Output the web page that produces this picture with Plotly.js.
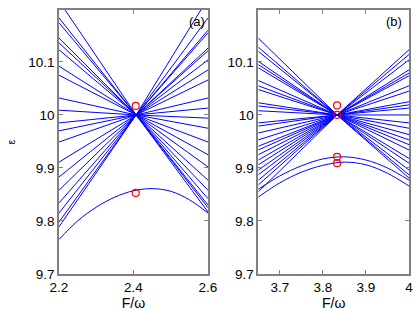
<!DOCTYPE html>
<html>
<head>
<meta charset="utf-8">
<script src="https://cdn.plot.ly/plotly-3.0.1.min.js"></script>
<style>html,body{margin:0;padding:0;background:#fff;}#chart{width:415px;height:311px;}</style>
</head>
<body>
<div id="chart"></div>
<script>
// Panel (a): x positions (left edge, crossing, right edge) and level values
const aX = [2.2, 2.407, 2.6];
const aCross = 10.0;
const aLeft = [10.215, 10.183, 10.174, 10.145, 10.136, 10.123, 10.092, 10.075, 10.032, 10.009,
               9.985, 9.970, 9.949, 9.911, 9.883, 9.858, 9.834, 9.815, 9.798, 9.789];
const aRight = [10.22, 10.183, 10.160, 10.155, 10.126, 10.121, 10.104, 10.085, 10.066, 10.032, 10.013,
                9.994, 9.975, 9.949, 9.925, 9.902, 9.877, 9.858, 9.842, 9.830, 9.825, 9.817];
const aCurveX = [2.2, 2.25, 2.3, 2.35, 2.4, 2.45, 2.5, 2.55, 2.6];
const aCurveY = [9.765, 9.8, 9.826, 9.845, 9.857, 9.861, 9.856, 9.84, 9.815];
const aCircX = [2.406, 2.406];
const aCircY = [10.017, 9.853];

// Panel (b)
const bX = [3.65, 3.833, 4.0];
const bCross = 10.0;
const bLeft = [10.145, 10.128, 10.120, 10.101, 10.095, 10.089, 10.065, 10.055, 10.048, 10.023, 10.017, 10.008,
               9.985, 9.979, 9.966, 9.953, 9.941, 9.934, 9.925, 9.915, 9.906, 9.896, 9.887, 9.877, 9.868, 9.855];
const bRight = [10.123, 10.114, 10.104, 10.085, 10.079, 10.074, 10.055, 10.045, 10.025, 10.019, 10.013, 10.0,
                9.985, 9.975, 9.963, 9.953, 9.944, 9.934, 9.918, 9.909, 9.896, 9.887, 9.881];
const bCurveX = [3.65, 3.7, 3.75, 3.8, 3.85, 3.9, 3.95, 4.0];
const bCurve1Y = [9.86, 9.885, 9.904, 9.917, 9.921, 9.915, 9.9, 9.877];
const bCurve2Y = [9.845, 9.872, 9.892, 9.905, 9.911, 9.906, 9.89, 9.866];
const bCircX = [3.833, 3.833, 3.833, 3.833];
const bCircY = [10.018, 10.0, 9.921, 9.909];

const yTicks = [9.7, 9.8, 9.9, 10, 10.1];
const yTickText = ['9.7', '9.8', '9.9', '10', '10.1'];
const aXTicks = [2.2, 2.4, 2.6];
const bXTicks = [3.7, 3.8, 3.9, 4];
const bXTickText = ['3.7', '3.8', '3.9', '4'];

const BLUE = 'rgb(0,0,255)';

function segs(xs, cross, left, right) {
  const x = [], y = [];
  left.forEach(v => { x.push(xs[0], xs[1], null); y.push(v, cross, null); });
  right.forEach(v => { x.push(xs[1], xs[2], null); y.push(cross, v, null); });
  return {x, y};
}
const sa = segs(aX, aCross, aLeft, aRight);
const sb = segs(bX, bCross, bLeft, bRight);

const lineStyle = {color: BLUE, width: 1};
const traces = [
  {x: sa.x, y: sa.y, xaxis: 'x', yaxis: 'y', mode: 'lines', line: lineStyle, connectgaps: false},
  {x: aCurveX, y: aCurveY, xaxis: 'x', yaxis: 'y', mode: 'lines', line: Object.assign({shape: 'spline'}, lineStyle)},
  {x: aCircX, y: aCircY, xaxis: 'x', yaxis: 'y', mode: 'markers',
   marker: {symbol: 'circle-open', size: 7, color: 'red', line: {width: 1.2, color: 'red'}}},
  {x: sb.x, y: sb.y, xaxis: 'x2', yaxis: 'y2', mode: 'lines', line: lineStyle, connectgaps: false},
  {x: bCurveX, y: bCurve1Y, xaxis: 'x2', yaxis: 'y2', mode: 'lines', line: Object.assign({shape: 'spline'}, lineStyle)},
  {x: bCurveX, y: bCurve2Y, xaxis: 'x2', yaxis: 'y2', mode: 'lines', line: Object.assign({shape: 'spline'}, lineStyle)},
  {x: bCircX, y: bCircY, xaxis: 'x2', yaxis: 'y2', mode: 'markers',
   marker: {symbol: 'circle-open', size: 7, color: 'red', line: {width: 1.2, color: 'red'}}}
];

const FAM = 'Liberation Sans, Arial, sans-serif';
const FONT = {family: FAM, size: 13.5, color: '#000'};
const axCommon = {
  showline: true, linecolor: '#808080', linewidth: 1.8, mirror: 'ticks',
  ticks: 'inside', ticklen: 4, tickcolor: '#808080', tickwidth: 1,
  showgrid: false, zeroline: false, tickfont: FONT, fixedrange: true
};
const layout = {
  width: 415, height: 311,
  margin: {l: 59, r: 6, t: 10, b: 37},
  paper_bgcolor: '#fff', plot_bgcolor: '#fff',
  showlegend: false,
  font: FONT,
  xaxis: Object.assign({}, axCommon, {domain: [0, 0.4257], range: [2.2, 2.6], tickvals: aXTicks,
    ticktext: ['2.2', '2.4', '2.6'], anchor: 'y',
    title: {text: 'F/ω', font: {family: FAM, size: 14}, standoff: 3}}),
  yaxis: Object.assign({}, axCommon, {domain: [0, 1], range: [9.7, 10.198], tickvals: yTicks, ticktext: yTickText, anchor: 'x',
    title: {text: 'ε', font: {family: FAM, size: 11}, standoff: 10}}),
  xaxis2: Object.assign({}, axCommon, {domain: [0.5694, 1], range: [3.65, 4.0], tickvals: bXTicks,
    ticktext: bXTickText, anchor: 'y2',
    title: {text: 'F/ω', font: {family: FAM, size: 14}, standoff: 3}}),
  yaxis2: Object.assign({}, axCommon, {domain: [0, 1], range: [9.7, 10.198], tickvals: yTicks, ticktext: yTickText, anchor: 'x2'}),
  annotations: [
    {text: '(a)', xref: 'x', yref: 'paper', x: 2.57, y: 0.955, showarrow: false, xanchor: 'center', yanchor: 'middle',
     font: {family: FAM, size: 13}},
    {text: '(b)', xref: 'x2', yref: 'paper', x: 3.965, y: 0.955, showarrow: false, xanchor: 'center', yanchor: 'middle',
     font: {family: FAM, size: 13}}
  ]
};
Plotly.newPlot('chart', traces, layout, {staticPlot: true, displayModeBar: false});
</script>
</body>
</html>
